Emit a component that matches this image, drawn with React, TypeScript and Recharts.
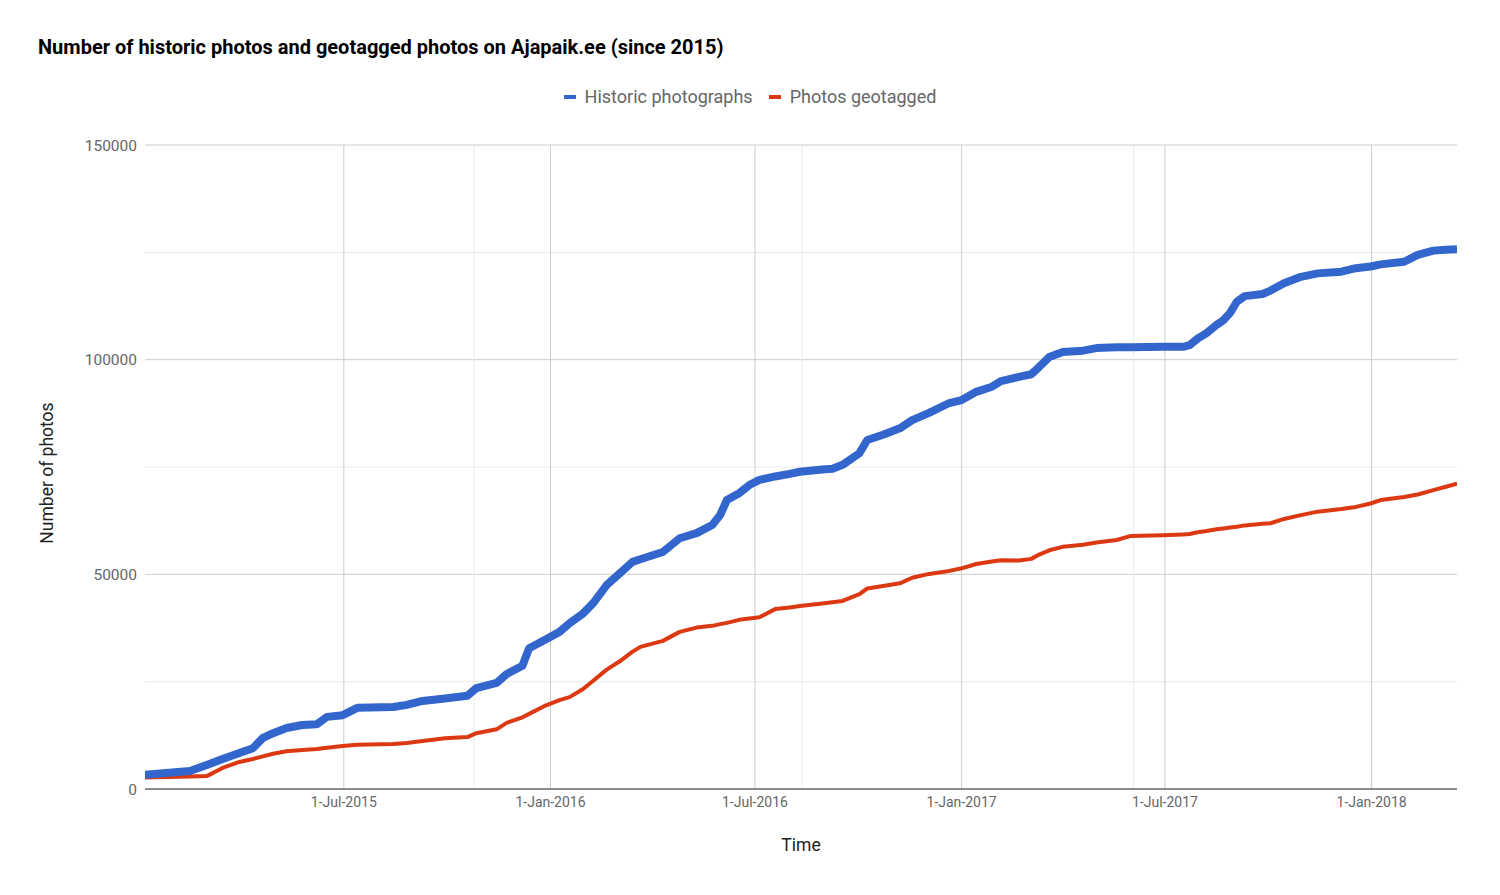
import React from 'react';
import { LineChart, Line, XAxis, YAxis, CartesianGrid, ReferenceLine } from 'recharts';

const dates = [
  '2015-01-05','2015-02-14','2015-03-01','2015-03-15','2015-03-30','2015-04-11','2015-04-20','2015-04-29',
  '2015-05-11','2015-05-25','2015-06-07','2015-06-16','2015-06-30','2015-07-13','2015-08-14','2015-08-26',
  '2015-09-09','2015-09-29','2015-10-19','2015-10-27','2015-11-14','2015-11-23','2015-12-07','2015-12-13',
  '2015-12-28','2016-01-09','2016-01-18','2016-01-30','2016-02-08','2016-02-20','2016-03-03','2016-03-14',
  '2016-03-21','2016-04-10','2016-04-25','2016-05-10','2016-05-24','2016-05-31','2016-06-06','2016-06-17',
  '2016-06-26','2016-07-05','2016-07-19','2016-08-01','2016-08-10','2016-08-30','2016-09-08','2016-09-17',
  '2016-10-02','2016-10-09','2016-10-23','2016-11-07','2016-11-18','2016-12-03','2016-12-21','2017-01-01',
  '2017-01-14','2017-01-28','2017-02-05','2017-02-21','2017-03-04','2017-03-11','2017-03-20','2017-04-01',
  '2017-04-19','2017-05-01','2017-05-19','2017-05-31','2017-06-29','2017-07-17','2017-07-23','2017-07-30',
  '2017-08-07','2017-08-16','2017-08-22','2017-08-28','2017-09-03','2017-09-10','2017-09-26','2017-10-03',
  '2017-10-15','2017-10-30','2017-11-14','2017-12-05','2017-12-18','2017-12-31','2018-01-09','2018-01-30',
  '2018-02-11','2018-02-25','2018-03-08','2018-03-18'
];

const historic = [
  3300, 4200, 5600, 7000, 8400, 9500, 11900, 13000,
  14200, 14900, 15100, 16800, 17200, 18900, 19100, 19600,
  20500, 21100, 21700, 23500, 24700, 26800, 28700, 32800,
  34900, 36600, 38600, 40900, 43300, 47500, 50300, 52900,
  53500, 55200, 58400, 59600, 61500, 63800, 67300, 68900,
  70800, 72000, 72800, 73400, 73900, 74400, 74600, 75500,
  78200, 81300, 82500, 84000, 85900, 87600, 89900, 90600,
  92500, 93700, 95000, 96000, 96600, 98300, 100600, 101800,
  102100, 102700, 102900, 102900, 103000, 103000, 103400, 104900,
  106200, 108100, 109200, 110900, 113500, 114800, 115300, 116100,
  117800, 119300, 120100, 120500, 121300, 121700, 122200, 122800,
  124400, 125400, 125600, 125700
];

const geotagged = [
  2700, 2900, 3000, 4900, 6300, 7000, 7600, 8200,
  8800, 9100, 9300, 9600, 10000, 10300, 10500, 10700,
  11200, 11800, 12100, 13000, 13900, 15400, 16700, 17500,
  19500, 20700, 21400, 23300, 25200, 27800, 29800, 32000,
  33100, 34500, 36600, 37600, 38000, 38400, 38700, 39400,
  39700, 40000, 41900, 42300, 42600, 43200, 43500, 43800,
  45400, 46700, 47300, 47900, 49200, 50100, 50800, 51400,
  52400, 53000, 53300, 53200, 53600, 54600, 55600, 56400,
  56900, 57400, 58000, 58900, 59100, 59300, 59400, 59800,
  60100, 60500, 60700, 60900, 61100, 61400, 61800, 61900,
  62900, 63800, 64600, 65200, 65700, 66500, 67300, 68000,
  68600, 69600, 70400, 71100
];

const xTickDates = ['2015-07-01', '2016-01-01', '2016-07-01', '2017-01-01', '2017-07-01', '2018-01-01'];
const xTickLabels = ['1-Jul-2015', '1-Jan-2016', '1-Jul-2016', '1-Jan-2017', '1-Jul-2017', '1-Jan-2018'];
const minorXDates = ['2015-10-25', '2016-08-12', '2017-06-03'];
const yTicks = [0, 50000, 100000, 150000];
const minorYTicks = [25000, 75000, 125000];
const xDomainDates = ['2015-01-05', '2018-03-18'];
const seriesNames = ['Historic photographs', 'Photos geotagged'];
const seriesColors = ['#3366cc', '#dc3912'];

const ts = (s: string) => Date.parse(s + 'T00:00:00Z');

const data = dates.map((d, i) => ({ t: ts(d), historic: historic[i], geotagged: geotagged[i] }));
const xTicks = xTickDates.map(ts);
const tickLabelMap: Record<number, string> = {};
xTicks.forEach((t, i) => { tickLabelMap[t] = xTickLabels[i]; });

const FONT = 'Roboto, Arial, sans-serif';

export default function App() {
  return (
    <div style={{ position: 'absolute', left: 0, top: 0, width: 1500, height: 895, background: '#fff', fontFamily: FONT }}>
      <div style={{ position: 'absolute', left: 38, top: 35, fontSize: 20, fontWeight: 700, color: '#000', whiteSpace: 'nowrap', lineHeight: '24px' }}>
        Number of historic photos and geotagged photos on Ajapaik.ee (since 2015)
      </div>
      <div style={{ position: 'absolute', left: 0, top: 86, width: 1500, display: 'flex', justifyContent: 'center', alignItems: 'center', fontSize: 18, color: '#666', lineHeight: '22px' }}>
        {seriesNames.map((n, i) => (
          <React.Fragment key={n}>
            <span style={{ display: 'inline-block', width: 12, height: 4, background: seriesColors[i], marginRight: 9, marginLeft: i === 0 ? 0 : 16 }} />
            <span>{n}</span>
          </React.Fragment>
        ))}
      </div>
      <div style={{ position: 'absolute', left: 801, top: 835, transform: 'translateX(-50%)', fontSize: 17.5, color: '#222' }}>
        Time
      </div>
      <div style={{ position: 'absolute', left: 47, top: 473, transform: 'translate(-50%, -50%) rotate(-90deg)', fontSize: 17.5, color: '#222', whiteSpace: 'nowrap' }}>
        Number of photos
      </div>
      <LineChart
        width={1500}
        height={895}
        data={data}
        margin={{ top: 145, right: 43, bottom: 76, left: 65 }}
      >
        <CartesianGrid stroke="#cccccc" vertical={false} horizontal={true} />
        {minorYTicks.map((v) => (
          <ReferenceLine key={'my' + v} y={v} stroke="#ececec" strokeWidth={1} />
        ))}
        {minorXDates.map((d) => (
          <ReferenceLine key={'mx' + d} x={ts(d)} stroke="#ececec" strokeWidth={1} />
        ))}
        {xTicks.map((t) => (
          <ReferenceLine key={'gx' + t} x={t} stroke="#cccccc" strokeWidth={1} />
        ))}
        <XAxis
          dataKey="t"
          type="number"
          scale="time"
          domain={[ts(xDomainDates[0]), ts(xDomainDates[1])]}
          ticks={xTicks}
          tickFormatter={(v: number) => tickLabelMap[v] ?? ''}
          height={30}
          tickLine={false}
          tickSize={0}
          tickMargin={8}
          axisLine={{ stroke: '#333333', strokeWidth: 1 }}
          tick={{ fill: '#666', fontSize: 14, fontFamily: FONT }}
          interval={0}
          allowDataOverflow
        />
        <YAxis
          type="number"
          domain={[0, 150000]}
          ticks={yTicks}
          width={80}
          tickLine={false}
          tickSize={0}
          tickMargin={8}
          axisLine={false}
          tick={{ fill: '#666', fontSize: 15.5, fontFamily: FONT }}
          interval={0}
        />
        <Line
          type="linear"
          dataKey="geotagged"
          name={seriesNames[1]}
          stroke={seriesColors[1]}
          strokeWidth={4}
          dot={false}
          isAnimationActive={false}
          strokeLinejoin="round"
        />
        <Line
          type="linear"
          dataKey="historic"
          name={seriesNames[0]}
          stroke={seriesColors[0]}
          strokeWidth={8}
          dot={false}
          isAnimationActive={false}
          strokeLinejoin="round"
        />
      </LineChart>
    </div>
  );
}
